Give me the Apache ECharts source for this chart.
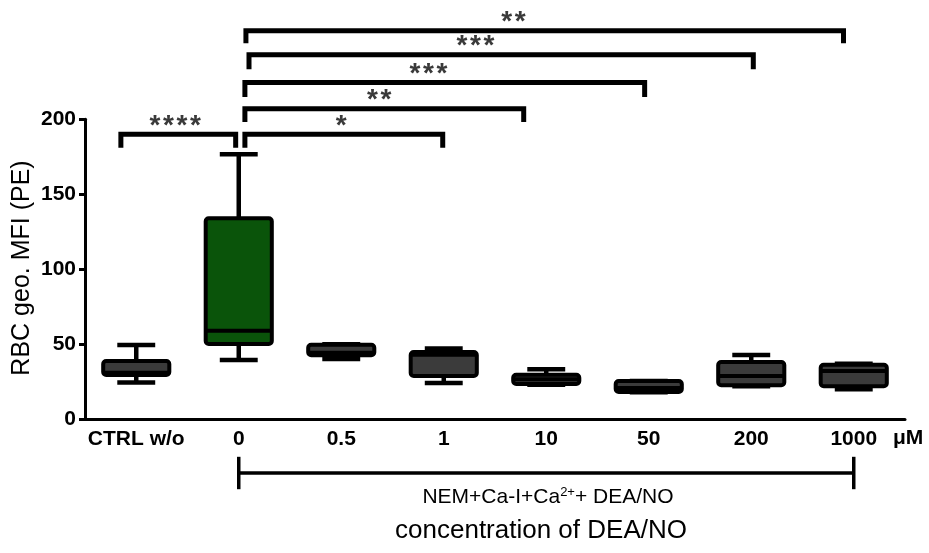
<!DOCTYPE html>
<html>
<head>
<meta charset="utf-8">
<script src="https://cdn.jsdelivr.net/npm/echarts@6/dist/echarts.min.js"></script>
<style>
html,body{margin:0;padding:0;background:#fff;}
#chart{width:929px;height:553px;}
</style>
</head>
<body>
<div id="chart"></div>
<script>
// ---- data ----
const categories = ['CTRL w/o', '0', '0.5', '1', '10', '50', '200', '1000'];
const whiskerLow  = [24.5, 39.5, 40.2, 24.2, 23.0, 18.0, 22.0, 20.0];
const quartile1   = [29.5, 50.2, 42.7, 28.9, 23.5, 18.2, 22.7, 22.0];
const medians     = [31.0, 59.0, 44.4, 43.0, 26.7, 20.9, 28.9, 32.2];
const quartile3   = [38.9, 134.0, 49.7, 44.9, 29.7, 25.5, 38.2, 36.4];
const whiskerHigh = [49.5, 176.7, 50.0, 47.2, 33.3, 25.5, 42.9, 37.0];
const boxColors   = ['#3b3b3b', '#0a540a', '#3b3b3b', '#3b3b3b', '#3b3b3b', '#3b3b3b', '#3b3b3b', '#3b3b3b'];

// significance brackets (x in category-index units, y in axis units)
const bracketLeft  = [-0.15, 1.06, 1.06, 1.06, 1.10, 1.07];
const bracketRight = [0.97, 2.99, 3.78, 4.96, 6.02, 6.90];
const bracketTop   = [190.0, 190.0, 207.0, 224.5, 243.0, 259.0];
const bracketDrop  = [9.0, 9.0, 8.8, 9.6, 9.6, 8.3];
const bracketStars = ['****', '*', '**', '***', '***', '**'];
const bracketStarX = [0.38, 2.0, 2.37, 2.85, 3.31, 3.68];

// span under the axis (from category '0' to '1000')
const spanFrom = 1, spanTo = 7, spanY = -35.8, spanHalf = 10.8;

const yTicks = { min: 0, max: 200, interval: 50 };

// ---- chart ----
const chart = echarts.init(document.getElementById('chart'), null, { renderer: 'canvas' });

const boxData = categories.map((c, i) => [i, whiskerLow[i], quartile1[i], medians[i], quartile3[i], whiskerHigh[i]]);
const bracketData = bracketLeft.map((l, i) => [l, bracketRight[i], bracketTop[i], bracketDrop[i], bracketStarX[i], bracketStars[i].length]);

const FONT = '"Liberation Sans", Arial, sans-serif';

function renderBox(params, api) {
  const idx = api.value(0);
  const band = api.size([1, 0])[0];
  const bw = band * 0.645;
  const cw = band * 0.37;
  const x = api.coord([idx, 0])[0];
  const yMin = api.coord([idx, api.value(1)])[1];
  const yQ1 = api.coord([idx, api.value(2)])[1];
  const yMed = api.coord([idx, api.value(3)])[1];
  const yQ3 = api.coord([idx, api.value(4)])[1];
  const yMax = api.coord([idx, api.value(5)])[1];
  const lw = 4.5;
  const st = { stroke: '#000', lineWidth: lw, fill: null };
  return {
    type: 'group',
    children: [
      { type: 'line', shape: { x1: x, y1: yMax, x2: x, y2: yQ3 }, style: st },
      { type: 'line', shape: { x1: x - cw / 2, y1: yMax, x2: x + cw / 2, y2: yMax }, style: st },
      { type: 'line', shape: { x1: x, y1: yMin, x2: x, y2: yQ1 }, style: st },
      { type: 'line', shape: { x1: x - cw / 2, y1: yMin, x2: x + cw / 2, y2: yMin }, style: st },
      { type: 'rect', shape: { x: x - bw / 2, y: yQ3, width: bw, height: yQ1 - yQ3, r: 3 },
        style: { fill: boxColors[params.dataIndex], stroke: '#000', lineWidth: 4 } },
      { type: 'line', shape: { x1: x - bw / 2, y1: yMed, x2: x + bw / 2, y2: yMed }, style: { stroke: '#000', lineWidth: 4 } }
    ]
  };
}

function renderBracket(params, api) {
  const x1 = api.value(0), x2 = api.value(1), yT = api.value(2), drop = api.value(3), sx = api.value(4), n = api.value(5);
  const pA = api.coord([x1, yT]);
  const pB = api.coord([x2, yT]);
  const yb = api.coord([x1, yT - drop])[1];
  const ps = api.coord([sx, yT]);
  const children = [{
    type: 'polyline',
    shape: { points: [[pA[0], yb], [pA[0], pA[1]], [pB[0], pB[1]], [pB[0], yb]] },
    style: { stroke: '#000', lineWidth: 5, fill: null, lineJoin: 'miter' }
  }];
  const fs = 28;
  const starCenterY = ps[1] - 14.5;
  for (let k = 0; k < n; k++) {
    children.push({
      type: 'text',
      x: ps[0] + (k - (n - 1) / 2) * 13.5,
      y: starCenterY + 0.23 * fs,
      style: { text: '*', fontSize: fs, fontFamily: FONT, fontWeight: 'bold', fill: '#3a3a3a', align: 'center', verticalAlign: 'middle' }
    });
  }
  return { type: 'group', children };
}

function renderSpan(params, api) {
  const a = api.coord([api.value(0), api.value(2)]);
  const b = api.coord([api.value(1), api.value(2)]);
  const yUp = api.coord([api.value(0), api.value(2) + api.value(3)])[1];
  const yDn = api.coord([api.value(0), api.value(2) - api.value(3)])[1];
  const st = { stroke: '#000', lineWidth: 3.5 };
  return {
    type: 'group',
    children: [
      { type: 'line', shape: { x1: a[0], y1: a[1], x2: b[0], y2: b[1] }, style: st },
      { type: 'line', shape: { x1: a[0], y1: yUp, x2: a[0], y2: yDn }, style: st },
      { type: 'line', shape: { x1: b[0], y1: yUp, x2: b[0], y2: yDn }, style: st }
    ]
  };
}

const option = {
  animation: false,
  backgroundColor: '#fff',
  grid: { left: 85, right: 24, top: 119.3, bottom: 133.7, containLabel: false },
  xAxis: [
    {
      type: 'category',
      data: categories,
      boundaryGap: true,
      axisLine: { onZero: false, lineStyle: { color: '#000', width: 3 } },
      axisTick: { alignWithLabel: true, interval: 0, length: 7, lineStyle: { color: '#000', width: 3 } },
      axisLabel: { interval: 0, color: '#000', fontSize: 21, fontWeight: 'bold', fontFamily: FONT, margin: 9 },
      splitLine: { show: false }
    },
    { type: 'value', min: -0.5, max: 7.5, show: false }
  ],
  yAxis: {
    type: 'value',
    min: yTicks.min, max: yTicks.max, interval: yTicks.interval,
    axisLine: { show: true, onZero: false, lineStyle: { color: '#000', width: 3 } },
    axisTick: { show: true, length: 6, lineStyle: { color: '#000', width: 3 } },
    axisLabel: { color: '#000', fontSize: 21, fontWeight: 'bold', fontFamily: FONT, margin: 9 },
    splitLine: { show: false }
  },
  series: [
    {
      type: 'custom', name: 'boxes', xAxisIndex: 0, yAxisIndex: 0,
      renderItem: renderBox, data: boxData,
      encode: { x: 0, y: [1, 2, 3, 4, 5] }, clip: false
    },
    {
      type: 'custom', name: 'brackets', xAxisIndex: 1, yAxisIndex: 0,
      renderItem: renderBracket, data: bracketData,
      encode: { x: [0, 1, 4], y: [2] }, clip: false
    },
    {
      type: 'custom', name: 'span', xAxisIndex: 1, yAxisIndex: 0,
      renderItem: renderSpan, data: [[spanFrom, spanTo, spanY, spanHalf]],
      encode: { x: [0, 1], y: [2] }, clip: false
    }
  ],
  graphic: [
    { type: 'text', x: 22, y: 268, rotation: Math.PI / 2,
      style: { text: 'RBC geo. MFI (PE)', fontSize: 25, fontFamily: FONT, fill: '#000', align: 'center', verticalAlign: 'middle' } },
    { type: 'text', x: 893, y: 438,
      style: { text: 'μM', fontSize: 21, fontWeight: 'bold', fontFamily: FONT, fill: '#000', align: 'left', verticalAlign: 'middle' } },
    { type: 'text', x: 548, y: 497,
      style: {
        text: '{a|NEM+Ca-I+Ca}{s|2+}{a|+ DEA/NO}',
        align: 'center', verticalAlign: 'middle',
        rich: {
          a: { fontSize: 21, fontFamily: FONT, fill: '#000', color: '#000' },
          s: { fontSize: 13, fontFamily: FONT, fill: '#000', color: '#000', verticalAlign: 'top', padding: [0, 0, 10, 0] }
        }
      } },
    { type: 'text', x: 541, y: 531,
      style: { text: 'concentration of DEA/NO', fontSize: 26, fontFamily: FONT, fill: '#000', align: 'center', verticalAlign: 'middle' } }
  ]
};

chart.setOption(option);
</script>
</body>
</html>
